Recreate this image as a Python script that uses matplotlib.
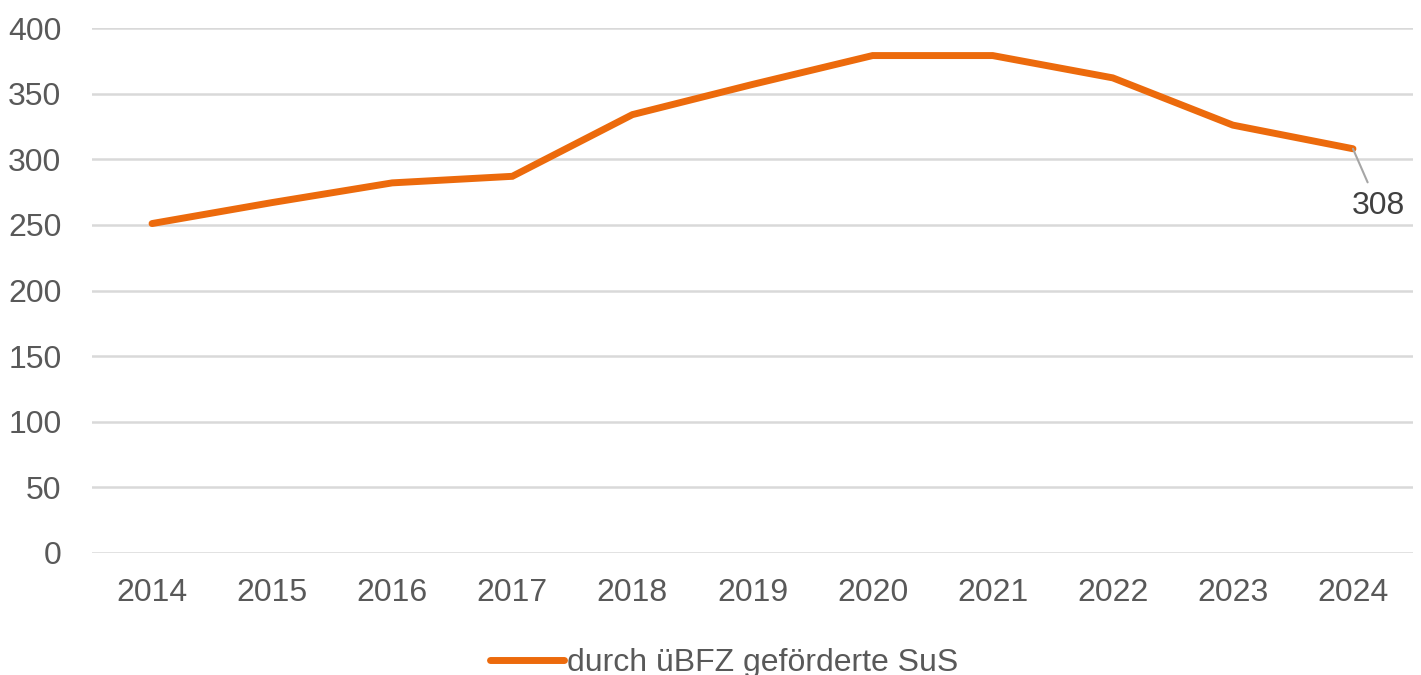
import matplotlib
matplotlib.use("Agg")
import matplotlib.pyplot as plt

years = ["2014", "2015", "2016", "2017", "2018", "2019", "2020", "2021", "2022", "2023", "2024"]
values = [251, 267, 282, 287, 334, 357, 379, 379, 362, 326, 308]
series_name = "durch üBFZ geförderte SuS"
y_ticks = [0, 50, 100, 150, 200, 250, 300, 350, 400]

plt.rcParams['font.family'] = ['Liberation Sans', 'DejaVu Sans']
text_color = "#595959"
line_color = "#EC6A0C"
grid_color = "#D9D9D9"
fs = 23

fig = plt.figure(figsize=(14.21, 6.75), dpi=100)
ax = fig.add_axes([92/1421, 1-553/675, (1413-92)/1421, (553-28)/675])

x = list(range(len(years)))
line, = ax.plot(x, values, color=line_color, lw=5, solid_joinstyle='miter',
                solid_capstyle='round', label=series_name, zorder=3)

ax.set_xlim(-0.5, len(years) - 0.5)
ax.set_ylim(0, 400)
ax.set_yticks(y_ticks)
ax.set_xticks(x)
ax.set_xticklabels(years)
for s in ax.spines.values():
    s.set_visible(False)
ax.grid(axis='y', color=grid_color, lw=1.8)
ax.set_axisbelow(True)
ax.tick_params(axis='both', length=0, labelsize=fs, colors=text_color)
ax.tick_params(axis='x', pad=18)
ax.tick_params(axis='y', pad=22)

# data label for last point
ax.annotate(str(values[-1]), xy=(x[-1], values[-1]), xytext=(x[-1] + 0.21, values[-1] - 44),
            ha='center', va='center', fontsize=fs, color="#404040",
            arrowprops=dict(arrowstyle='-', color="#A6A6A6", lw=1.5, shrinkA=5, shrinkB=0))

leg = fig.legend(handles=[line], loc='center', bbox_to_anchor=(724/1421, 1-663/675),
                 frameon=False, fontsize=fs, handlelength=2.3, handletextpad=0.1,
                 labelcolor=text_color)

fig.savefig("out.png", dpi=100)
